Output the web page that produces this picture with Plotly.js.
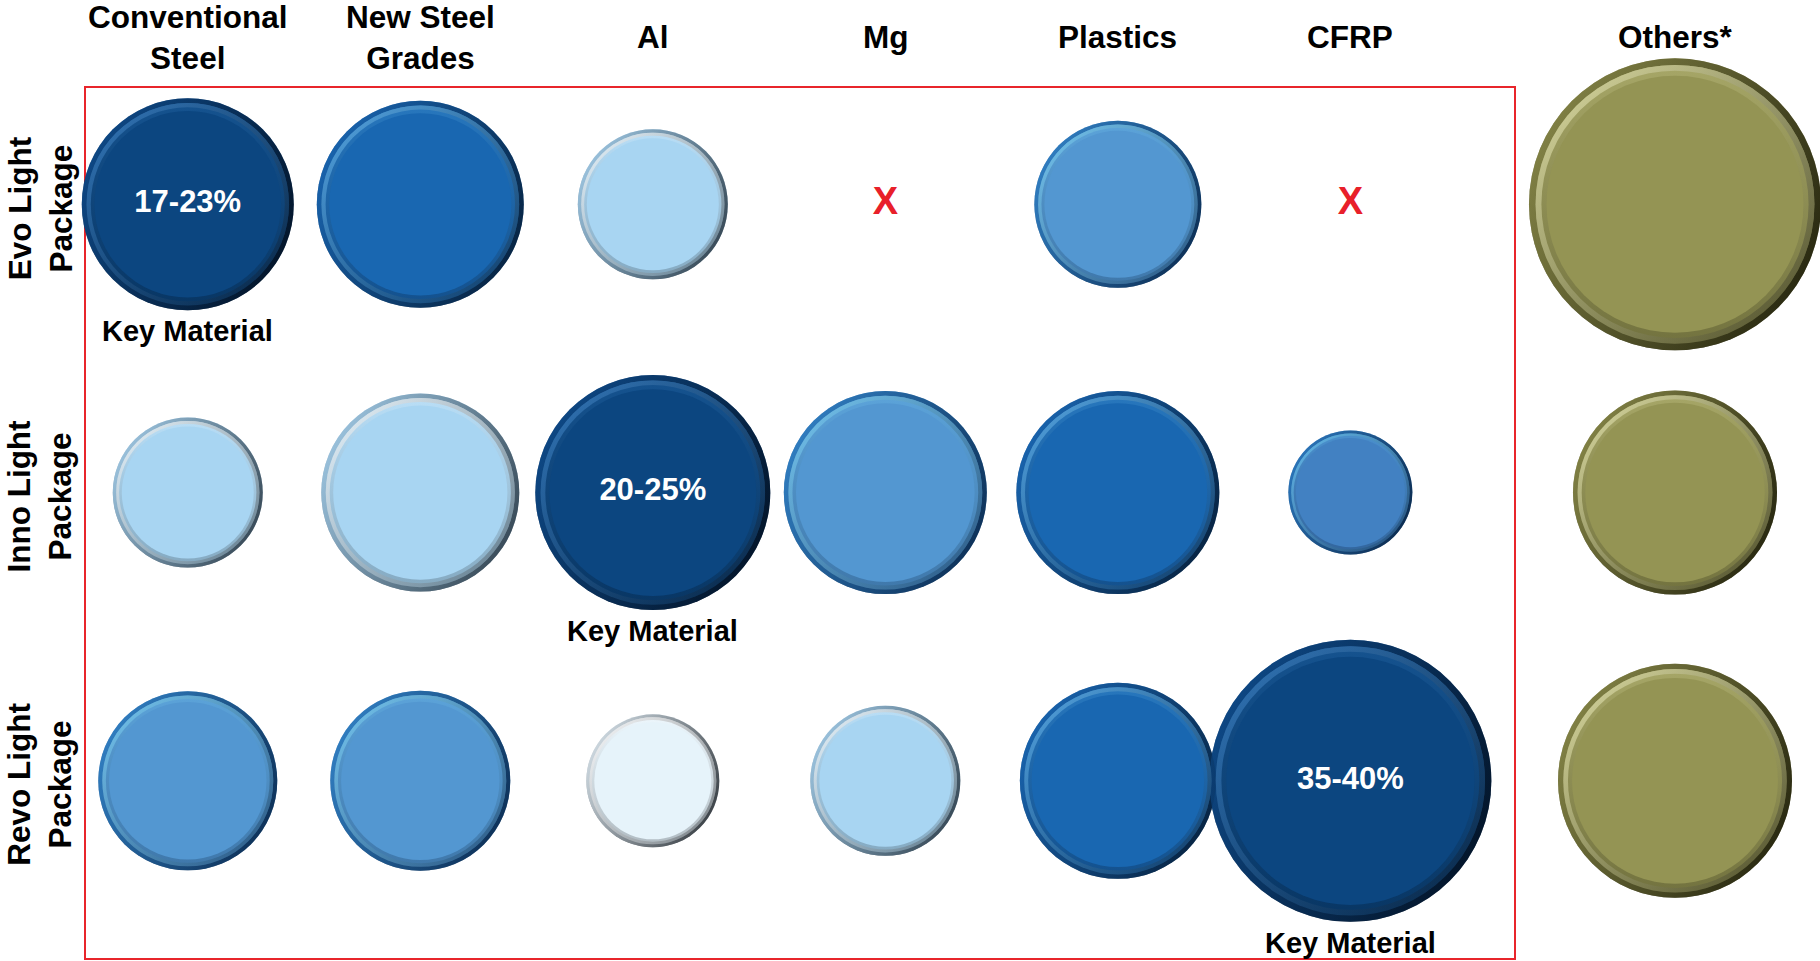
<!DOCTYPE html>
<html>
<head>
<meta charset="utf-8">
<script src="https://cdn.plot.ly/plotly-3.0.1.min.js"></script>
<style>
  html, body { margin: 0; padding: 0; background: #ffffff; overflow: hidden; }
  #chart { width: 1820px; height: 961px; }
</style>
</head>
<body>
<div id="chart"></div>
<script>
// ---- data -------------------------------------------------------------
const materials = ['Conventional<br>Steel', 'New Steel<br>Grades', 'Al', 'Mg', 'Plastics', 'CFRP'];
const otherLabel = 'Others*';
const packages = ['Evo Light<br>Package', 'Inno Light<br>Package', 'Revo Light<br>Package'];

// relative bubble magnitude per package and material (null = material not used)
const evoSize  = [10.6, 10.35, 7.5, null, 8.35, null];
const innoSize = [7.5, 9.9, 11.75, 10.15, 10.15, 6.2];
const revoSize = [8.95, 9.0, 6.65, 7.5, 9.8, 14.1];
const othersSize = [14.6, 10.2, 11.7];

// relevance level per package and material (4 = key material, 0 = marginal)
const evoLevel  = [4, 3, 1, null, 2, null];
const innoLevel = [1, 1, 4, 2, 3, 2.5];
const revoLevel = [2, 2, 0, 1, 3, 4];

// weight-reduction share stated on each package's key material
const keyShare = ['17-23%', '20-25%', '35-40%'];

// ---- styling ----------------------------------------------------------
const FONT = 'Liberation Sans, Arial, Helvetica, sans-serif';
const PX_PER_UNIT = 20;          // bubble diameter in px per magnitude unit
const SIZEREF = 1 / PX_PER_UNIT;

// face / rim edge / highlight / shadow colours per relevance level
const palette = {
  4:   { fill: '#0c4680', edge: '#0f4f92', hi: '#3a80c4', shadow: '#010812' },
  3:   { fill: '#1967b1', edge: '#1b6cbc', hi: '#5fb0ea', shadow: '#031428' },
  2.5: { fill: '#4281c2', edge: '#2f7fc8', hi: '#6cc6f4', shadow: '#041a36' },
  2:   { fill: '#5397d1', edge: '#3588cf', hi: '#7dd0f6', shadow: '#051e3e' },
  1:   { fill: '#a8d5f2', edge: '#a8d3f0', hi: '#f6fcff', shadow: '#202c36' },
  0:   { fill: '#e6f3fa', edge: '#e2eef6', hi: '#ffffff', shadow: '#161b20' },
  other: { fill: '#949454', edge: '#8e8e4c', hi: '#e8e8b0', shadow: '#121204' }
};

function mix(a, b, t) {
  const pa = [1, 3, 5].map(i => parseInt(a.substr(i, 2), 16));
  const pb = [1, 3, 5].map(i => parseInt(b.substr(i, 2), 16));
  return 'rgb(' + pa.map((v, i) => Math.round(v + (pb[i] - v) * t)).join(',') + ')';
}

// ---- collect bubbles --------------------------------------------------
const sizeRows = [evoSize, innoSize, revoSize];
const levelRows = [evoLevel, innoLevel, revoLevel];

const main = { x: [], y: [], s: [], c: [] };
const missing = { x: [], y: [] };
const keys = { x: [], y: [], s: [], t: [] };

packages.forEach((pkg, r) => {
  materials.forEach((mat, m) => {
    const s = sizeRows[r][m];
    const lv = levelRows[r][m];
    if (s === null) { missing.x.push(mat); missing.y.push(pkg); return; }
    main.x.push(mat); main.y.push(pkg); main.s.push(s); main.c.push(palette[lv]);
    if (lv === 4) { keys.x.push(mat); keys.y.push(pkg); keys.s.push(s); keys.t.push(keyShare[r]); }
  });
});

const side = {
  x: packages.map(() => otherLabel),
  y: packages.slice(),
  s: othersSize.slice(),
  c: packages.map(() => palette.other)
};

// bevelled bubble = stacked markers: shaded rim, highlight ring, soft bevel, flat face
// (opacity is set explicitly: array-sized markers otherwise default to 0.7)
function bubbleLayers(set, xaxis) {
  const base = { type: 'scatter', mode: 'markers', x: set.x, y: set.y, xaxis: xaxis, yaxis: 'y',
                 cliponaxis: false, hoverinfo: 'skip' };
  const mk = (scale, extra) => Object.assign({}, base, {
    marker: Object.assign({ size: set.s.map(v => v * scale), sizemode: 'diameter', sizeref: SIZEREF,
                            opacity: 1, line: { width: 0 } }, extra)
  });
  const col = f => set.c.map(f);
  return [
    mk(1.0,  { color: col(p => p.edge), gradient: { type: 'vertical', color: col(p => mix(p.edge, p.shadow, 0.8)) } }),
    mk(1.0,  { color: col(p => p.edge), opacity: 0.6,
               gradient: { type: 'horizontal', color: col(p => p.shadow) } }),
    mk(0.955, { color: col(p => p.hi),
                gradient: { type: 'vertical', color: col(p => mix(p.fill, p.shadow, 0.5)) } }),
    mk(0.955, { color: col(p => mix(p.hi, p.fill, 0.3)), opacity: 0.5,
                gradient: { type: 'horizontal', color: col(p => mix(p.fill, p.shadow, 0.6)) } }),
    mk(0.915, { color: col(p => mix(p.fill, p.hi, 0.2)),
                gradient: { type: 'vertical', color: col(p => mix(p.fill, p.shadow, 0.25)) } }),
    mk(0.88, { color: col(p => p.fill) })
  ];
}

const traces = []
  .concat(bubbleLayers(main, 'x'))
  .concat(bubbleLayers(side, 'x2'))
  .concat([
    { type: 'scatter', mode: 'text', x: keys.x, y: keys.y, text: keys.t, xaxis: 'x', yaxis: 'y',
      cliponaxis: false, hoverinfo: 'skip', textposition: 'middle center',
      textfont: { family: FONT, size: 31, color: '#ffffff', weight: 700 } },
    { type: 'scatter', mode: 'text', x: missing.x, y: missing.y, text: missing.x.map(() => 'X'),
      xaxis: 'x', yaxis: 'y', cliponaxis: false, hoverinfo: 'skip', textposition: 'middle center',
      textfont: { family: FONT, size: 38, color: '#e8202a', weight: 700 } }
  ]);

// ---- labels -----------------------------------------------------------
const W = 1820, H = 961;
const headFont = { family: FONT, size: 31.5, color: '#000000', weight: 700 };
const annotations = [];

materials.forEach(mat => annotations.push({
  x: mat, xref: 'x', y: 1 - 37 / H, yref: 'paper', yanchor: 'middle', text: mat,
  showarrow: false, font: headFont
}));
annotations.push({
  x: otherLabel, xref: 'x2', y: 1 - 37 / H, yref: 'paper', yanchor: 'middle', text: otherLabel,
  showarrow: false, font: headFont
});

packages.forEach(pkg => annotations.push({
  x: 40 / W, xref: 'paper', xanchor: 'center', y: pkg, yref: 'y', yanchor: 'middle',
  text: pkg, textangle: -90, showarrow: false, yshift: -4,
  font: { family: FONT, size: 31.5, color: '#000000', weight: 700 }
}));

keys.x.forEach((mat, i) => annotations.push({
  x: mat, xref: 'x', y: keys.y[i], yref: 'y', text: 'Key Material', showarrow: false,
  yshift: -(keys.s[i] * PX_PER_UNIT / 2 + 21),
  font: { family: FONT, size: 29, color: '#000000', weight: 700 }
}));

const hiddenAxis = { type: 'category', showgrid: false, zeroline: false, showline: false,
                     showticklabels: false, ticks: '', fixedrange: true };

const layout = {
  width: W, height: H,
  margin: { l: 0, r: 0, t: 0, b: 0, pad: 0 },
  paper_bgcolor: '#ffffff', plot_bgcolor: 'rgba(0,0,0,0)',
  showlegend: false, hovermode: false,
  xaxis: Object.assign({}, hiddenAxis, { categoryorder: 'array', categoryarray: materials,
          range: [-0.442, 5.708], domain: [85 / W, 1515 / W], anchor: 'y' }),
  xaxis2: Object.assign({}, hiddenAxis, { categoryorder: 'array', categoryarray: [otherLabel],
          range: [-0.6237, 0.6237], domain: [1530 / W, 1], anchor: 'y' }),
  yaxis: Object.assign({}, hiddenAxis, { categoryorder: 'array', categoryarray: packages,
          range: [2.618, -0.407], domain: [2 / H, 874 / H], anchor: 'x' }),
  shapes: [{
    type: 'rect', xref: 'x domain', yref: 'y domain', x0: 0, x1: 1, y0: 0, y1: 1,
    line: { color: '#e8252b', width: 2 }, fillcolor: 'rgba(0,0,0,0)', layer: 'below'
  }],
  annotations: annotations
};

Plotly.newPlot('chart', traces, layout, { staticPlot: true, displayModeBar: false });
</script>
</body>
</html>
